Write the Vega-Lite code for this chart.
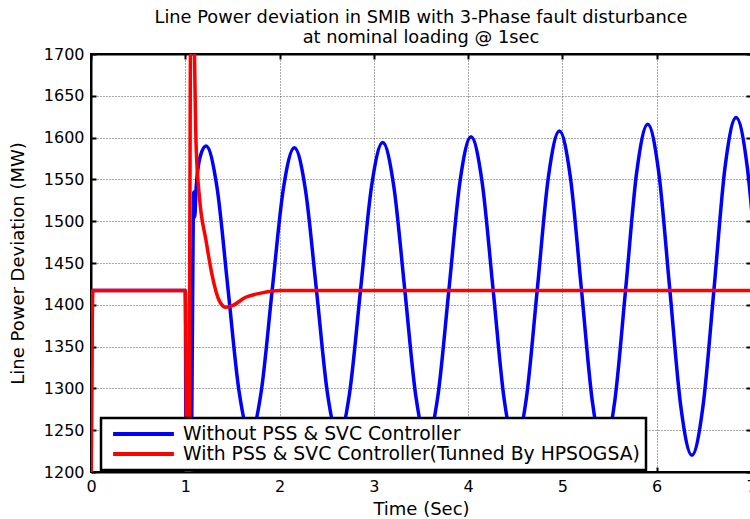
{
  "$schema": "https://vega.github.io/schema/vega-lite/v6.json",
  "width": 660,
  "height": 418,
  "autosize": {"type": "none"},
  "padding": {"left": 91, "top": 54, "right": 0, "bottom": 47},
  "background": "white",
  "title": {
    "text": ["Line Power deviation in SMIB with 3-Phase fault disturbance", "at nominal loading @ 1sec"],
    "fontSize": 17.8,
    "font": "DejaVu Sans",
    "fontWeight": "normal",
    "color": "black",
    "anchor": "middle",
    "offset": -1,
    "lineHeight": 20.5
  },
  "config": {
    "view": {"stroke": "black", "strokeWidth": 2},
    "font": "DejaVu Sans",
    "axis": {
      "domainColor": "black",
      "domainWidth": 2,
      "tickColor": "black",
      "tickWidth": 2,
      "tickSize": -5,
      "labelColor": "black",
      "labelFontSize": 16,
      "labelFont": "DejaVu Sans",
      "labelFlush": false,
      "titleColor": "black",
      "titleFontSize": 18,
      "titleFontWeight": "normal",
      "titleFont": "DejaVu Sans",
      "gridColor": "#555555",
      "gridDash": [1, 2],
      "gridWidth": 1
    },
    "legend": {
      "strokeColor": "black",
      "fillColor": "white",
      "cornerRadius": 0,
      "padding": 6
    }
  },
  "data": {
    "values": [
      {"t": 0, "p": 1150, "s": "Without PSS & SVC Controller"},
      {"t": 0.015, "p": 1417, "s": "Without PSS & SVC Controller"},
      {"t": 1.0, "p": 1417, "s": "Without PSS & SVC Controller"},
      {"t": 1.01, "p": 1150, "s": "Without PSS & SVC Controller"},
      {"t": 1.06, "p": 1150, "s": "Without PSS & SVC Controller"},
      {"t": 1.07, "p": 1284, "s": "Without PSS & SVC Controller"},
      {"t": 1.09, "p": 1535, "s": "Without PSS & SVC Controller"},
      {"t": 1.10, "p": 1505, "s": "Without PSS & SVC Controller"},
      {"t": 1.115, "p": 1540, "s": "Without PSS & SVC Controller"},
      {"t": 1.16, "p": 1578, "s": "Without PSS & SVC Controller"},
      {"t": 1.22, "p": 1590, "s": "Without PSS & SVC Controller"},
      {"t": 1.337, "p": 1540, "s": "Without PSS & SVC Controller"},
      {"t": 1.454, "p": 1418, "s": "Without PSS & SVC Controller"},
      {"t": 1.571, "p": 1296, "s": "Without PSS & SVC Controller"},
      {"t": 1.688, "p": 1245, "s": "Without PSS & SVC Controller"},
      {"t": 1.805, "p": 1296, "s": "Without PSS & SVC Controller"},
      {"t": 1.922, "p": 1418, "s": "Without PSS & SVC Controller"},
      {"t": 2.039, "p": 1538, "s": "Without PSS & SVC Controller"},
      {"t": 2.157, "p": 1588, "s": "Without PSS & SVC Controller"},
      {"t": 2.274, "p": 1538, "s": "Without PSS & SVC Controller"},
      {"t": 2.391, "p": 1418, "s": "Without PSS & SVC Controller"},
      {"t": 2.508, "p": 1294, "s": "Without PSS & SVC Controller"},
      {"t": 2.625, "p": 1242, "s": "Without PSS & SVC Controller"},
      {"t": 2.742, "p": 1294, "s": "Without PSS & SVC Controller"},
      {"t": 2.859, "p": 1418, "s": "Without PSS & SVC Controller"},
      {"t": 2.976, "p": 1542, "s": "Without PSS & SVC Controller"},
      {"t": 3.094, "p": 1594, "s": "Without PSS & SVC Controller"},
      {"t": 3.211, "p": 1542, "s": "Without PSS & SVC Controller"},
      {"t": 3.328, "p": 1418, "s": "Without PSS & SVC Controller"},
      {"t": 3.445, "p": 1291, "s": "Without PSS & SVC Controller"},
      {"t": 3.562, "p": 1238, "s": "Without PSS & SVC Controller"},
      {"t": 3.679, "p": 1291, "s": "Without PSS & SVC Controller"},
      {"t": 3.796, "p": 1418, "s": "Without PSS & SVC Controller"},
      {"t": 3.913, "p": 1547, "s": "Without PSS & SVC Controller"},
      {"t": 4.031, "p": 1601, "s": "Without PSS & SVC Controller"},
      {"t": 4.148, "p": 1547, "s": "Without PSS & SVC Controller"},
      {"t": 4.265, "p": 1418, "s": "Without PSS & SVC Controller"},
      {"t": 4.382, "p": 1287, "s": "Without PSS & SVC Controller"},
      {"t": 4.499, "p": 1233, "s": "Without PSS & SVC Controller"},
      {"t": 4.616, "p": 1287, "s": "Without PSS & SVC Controller"},
      {"t": 4.733, "p": 1418, "s": "Without PSS & SVC Controller"},
      {"t": 4.85, "p": 1552, "s": "Without PSS & SVC Controller"},
      {"t": 4.968, "p": 1608, "s": "Without PSS & SVC Controller"},
      {"t": 5.085, "p": 1552, "s": "Without PSS & SVC Controller"},
      {"t": 5.202, "p": 1418, "s": "Without PSS & SVC Controller"},
      {"t": 5.319, "p": 1283, "s": "Without PSS & SVC Controller"},
      {"t": 5.436, "p": 1227, "s": "Without PSS & SVC Controller"},
      {"t": 5.553, "p": 1283, "s": "Without PSS & SVC Controller"},
      {"t": 5.67, "p": 1418, "s": "Without PSS & SVC Controller"},
      {"t": 5.787, "p": 1558, "s": "Without PSS & SVC Controller"},
      {"t": 5.905, "p": 1616, "s": "Without PSS & SVC Controller"},
      {"t": 6.022, "p": 1558, "s": "Without PSS & SVC Controller"},
      {"t": 6.139, "p": 1418, "s": "Without PSS & SVC Controller"},
      {"t": 6.256, "p": 1278, "s": "Without PSS & SVC Controller"},
      {"t": 6.373, "p": 1220, "s": "Without PSS & SVC Controller"},
      {"t": 6.49, "p": 1278, "s": "Without PSS & SVC Controller"},
      {"t": 6.607, "p": 1418, "s": "Without PSS & SVC Controller"},
      {"t": 6.724, "p": 1564, "s": "Without PSS & SVC Controller"},
      {"t": 6.842, "p": 1624, "s": "Without PSS & SVC Controller"},
      {"t": 6.959, "p": 1566, "s": "Without PSS & SVC Controller"},
      {"t": 7.076, "p": 1418, "s": "Without PSS & SVC Controller"},
      {"t": 0, "p": 1150, "s": "With PSS & SVC Controller(Tunned By HPSOGSA)"},
      {"t": 0.02, "p": 1417, "s": "With PSS & SVC Controller(Tunned By HPSOGSA)"},
      {"t": 1.0, "p": 1417, "s": "With PSS & SVC Controller(Tunned By HPSOGSA)"},
      {"t": 1.02, "p": 1150, "s": "With PSS & SVC Controller(Tunned By HPSOGSA)"},
      {"t": 1.035, "p": 1150, "s": "With PSS & SVC Controller(Tunned By HPSOGSA)"},
      {"t": 1.06, "p": 1780, "s": "With PSS & SVC Controller(Tunned By HPSOGSA)"},
      {"t": 1.08, "p": 1780, "s": "With PSS & SVC Controller(Tunned By HPSOGSA)"},
      {"t": 1.115, "p": 1590, "s": "With PSS & SVC Controller(Tunned By HPSOGSA)"},
      {"t": 1.15, "p": 1529, "s": "With PSS & SVC Controller(Tunned By HPSOGSA)"},
      {"t": 1.22, "p": 1477, "s": "With PSS & SVC Controller(Tunned By HPSOGSA)"},
      {"t": 1.28, "p": 1438, "s": "With PSS & SVC Controller(Tunned By HPSOGSA)"},
      {"t": 1.36, "p": 1405, "s": "With PSS & SVC Controller(Tunned By HPSOGSA)"},
      {"t": 1.43, "p": 1397, "s": "With PSS & SVC Controller(Tunned By HPSOGSA)"},
      {"t": 1.5, "p": 1399, "s": "With PSS & SVC Controller(Tunned By HPSOGSA)"},
      {"t": 1.64, "p": 1409, "s": "With PSS & SVC Controller(Tunned By HPSOGSA)"},
      {"t": 1.8, "p": 1414, "s": "With PSS & SVC Controller(Tunned By HPSOGSA)"},
      {"t": 2.0, "p": 1417, "s": "With PSS & SVC Controller(Tunned By HPSOGSA)"},
      {"t": 7.1, "p": 1417, "s": "With PSS & SVC Controller(Tunned By HPSOGSA)"}
    ]
  },
  "layer": [
    {
      "transform": [{"filter": "datum.s === 'Without PSS & SVC Controller'"}],
      "mark": {"type": "line", "interpolate": "monotone", "clip": true, "strokeWidth": 3.5},
      "encoding": {
        "x": {
          "field": "t", "type": "quantitative",
          "scale": {"domain": [0, 7], "nice": false, "zero": false},
          "axis": {"orient": "bottom", "values": [0, 1, 2, 3, 4, 5, 6, 7], "grid": true, "title": "Time (Sec)", "labelPadding": 11, "titlePadding": 6, "format": "d", "labelFlush": false}
        },
        "y": {
          "field": "p", "type": "quantitative",
          "scale": {"domain": [1200, 1700], "nice": false, "zero": false},
          "axis": {"orient": "left", "values": [1200, 1250, 1300, 1350, 1400, 1450, 1500, 1550, 1600, 1650, 1700], "grid": true, "title": "Line Power Deviation (MW)", "labelPadding": 12, "titlePadding": 16, "format": "d", "labelFlush": false}
        },
        "color": {
          "field": "s", "type": "nominal",
          "scale": {"domain": ["Without PSS & SVC Controller", "With PSS & SVC Controller(Tunned By HPSOGSA)"], "range": ["#0000ff", "#ff0000"]},
          "legend": {
            "orient": "none", "legendX": 10, "legendY": 364, "title": null,
            "symbolType": "stroke", "symbolSize": 3700, "symbolStrokeWidth": 4,
            "labelFontSize": 18.8, "labelFont": "DejaVu Sans", "labelColor": "black", "labelLimit": 700, "labelOffset": 7,
            "symbolOffset": 4, "clipHeight": 20, "rowPadding": 0,
            "encode": {"legend": {"update": {"strokeWidth": {"value": 2.5}}}}
          }
        }
      }
    },
    {
      "transform": [{"filter": "datum.s !== 'Without PSS & SVC Controller'"}],
      "mark": {"type": "line", "interpolate": "monotone", "clip": true, "strokeWidth": 3.5},
      "encoding": {
        "x": {
          "field": "t", "type": "quantitative",
          "axis": {"orient": "top", "values": [0, 1, 2, 3, 4, 5, 6, 7], "grid": false, "labels": false, "title": null}
        },
        "y": {
          "field": "p", "type": "quantitative",
          "axis": {"orient": "right", "values": [1200, 1250, 1300, 1350, 1400, 1450, 1500, 1550, 1600, 1650, 1700], "grid": false, "labels": false, "title": null}
        },
        "color": {"field": "s", "type": "nominal"}
      }
    }
  ],
  "resolve": {"axis": {"x": "independent", "y": "independent"}}
}
